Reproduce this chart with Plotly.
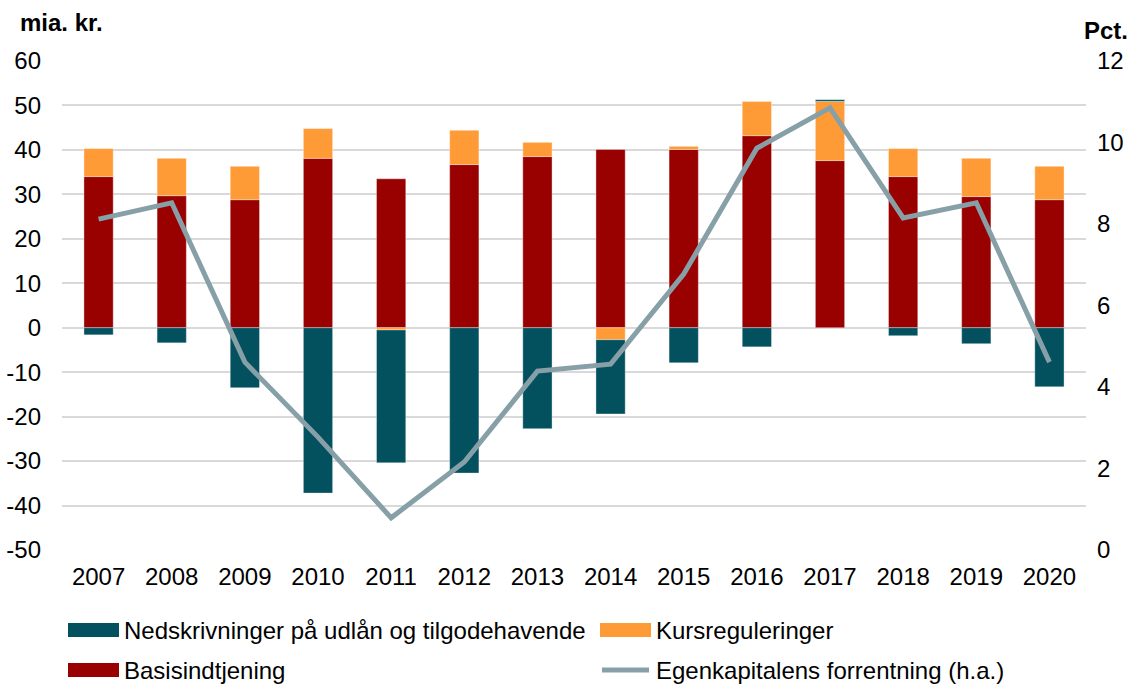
import plotly.graph_objects as go

years = [str(y) for y in range(2007, 2021)]
basisindtjening = [34.0, 29.7, 28.8, 38.1, 33.5, 36.7, 38.5, 40.1, 40.1, 43.2, 37.6, 34.0, 29.5, 28.8]
kursreguleringer = [6.3, 8.4, 7.5, 6.7, -0.5, 7.7, 3.2, -2.7, 0.7, 7.7, 13.3, 6.3, 8.6, 7.5]
nedskrivninger = [-1.6, -3.4, -13.5, -37.2, -29.9, -32.7, -22.7, -16.7, -7.9, -4.3, 0.4, -1.8, -3.6, -13.3]
egenkapital = [8.12, 8.52, 4.61, 2.77, 0.79, 2.16, 4.39, 4.56, 6.77, 9.86, 10.85, 8.15, 8.52, 4.61]

# venstre akse med almindelig bindestreg som minus
y_ticks = [-50, -40, -30, -20, -10, 0, 10, 20, 30, 40, 50, 60]
y_ticktext = ["-50", "-40", "-30", "-20", "-10", "0", "10", "20", "30", "40", "50", "60"]

C_NED = "#03505E"
C_KURS = "#FF9B36"
C_BASIS = "#990000"
C_LINE = "#87A0A8"
FONT = "Liberation Sans, Arial, sans-serif"
FS = 24

W, H = 1137, 684
L, R, T, B = 62, 51, 61, 134
PW, PH = W - L - R, H - T - B


def px_x(x):
    return (x - L) / PW


def px_y(y):
    return (H - B - y) / PH


edge = dict(width=0.6, color="rgba(255,255,255,0.6)")
fig = go.Figure()
fig.add_trace(go.Bar(x=years, y=basisindtjening, name="Basisindtjening",
                     marker=dict(color=C_BASIS, line=edge)))
fig.add_trace(go.Bar(x=years, y=kursreguleringer, name="Kursreguleringer",
                     marker=dict(color=C_KURS, line=edge)))
fig.add_trace(go.Bar(x=years, y=nedskrivninger, name="Nedskrivninger på udlån og tilgodehavende",
                     marker=dict(color=C_NED, line=edge)))
fig.add_trace(go.Scatter(x=years, y=egenkapital, name="Egenkapitalens forrentning (h.a.)",
                         yaxis="y2", mode="lines", line=dict(color=C_LINE, width=5)))

# manuel legende (to kolonner, brede symboler)
legend_items = [
    ("Nedskrivninger på udlån og tilgodehavende", C_NED, 68, 630, "bar"),
    ("Kursreguleringer", C_KURS, 600, 630, "bar"),
    ("Basisindtjening", C_BASIS, 68, 670, "bar"),
    ("Egenkapitalens forrentning (h.a.)", C_LINE, 600, 670, "line"),
]
for label, col, x0, yc, kind in legend_items:
    if kind == "bar":
        fig.add_shape(type="rect", xref="paper", yref="paper",
                      x0=px_x(x0), x1=px_x(x0 + 51), y0=px_y(yc - 7), y1=px_y(yc + 7),
                      fillcolor=col, line=dict(width=0))
    else:
        fig.add_shape(type="line", xref="paper", yref="paper",
                      x0=px_x(x0 + 2), x1=px_x(x0 + 49), y0=px_y(yc), y1=px_y(yc),
                      line=dict(color=col, width=5))
    fig.add_annotation(xref="paper", yref="paper", x=px_x(x0 + 54), y=px_y(yc),
                       text=label, showarrow=False, xanchor="left", yanchor="middle",
                       font=dict(size=FS, color="black", family=FONT))

fig.add_annotation(xref="paper", yref="paper", x=px_x(18), y=px_y(22), text="<b>mia. kr.</b>",
                   showarrow=False, xanchor="left", yanchor="middle",
                   font=dict(size=FS, color="black", family=FONT))
fig.add_annotation(xref="paper", yref="paper", x=px_x(1130), y=px_y(30), text="<b>Pct.</b>",
                   showarrow=False, xanchor="right", yanchor="middle",
                   font=dict(size=FS, color="black", family=FONT))

fig.update_layout(
    width=W, height=H,
    margin=dict(l=L, r=R, t=T, b=B),
    barmode="relative",
    bargap=0.6,
    showlegend=False,
    plot_bgcolor="white",
    paper_bgcolor="white",
    font=dict(family=FONT, size=FS, color="black"),
    xaxis=dict(showgrid=False, showline=False, ticks="", ticklabelstandoff=10,
               tickfont=dict(size=FS), automargin=False),
    yaxis=dict(range=[-50, 60], tickmode="array", tickvals=y_ticks, ticktext=y_ticktext,
               showgrid=True, gridcolor="#D9D9D9", gridwidth=2,
               zeroline=False, showline=False, ticklabelstandoff=20, tickfont=dict(size=FS),
               automargin=False),
    yaxis2=dict(range=[0, 12], dtick=2, overlaying="y", side="right", showgrid=False,
                zeroline=False, showline=False, ticklabelstandoff=10, tickfont=dict(size=FS),
                automargin=False),
)

fig.write_html("out.html", config={"displayModeBar": False},
               post_script="document.body.style.margin='0px';")
